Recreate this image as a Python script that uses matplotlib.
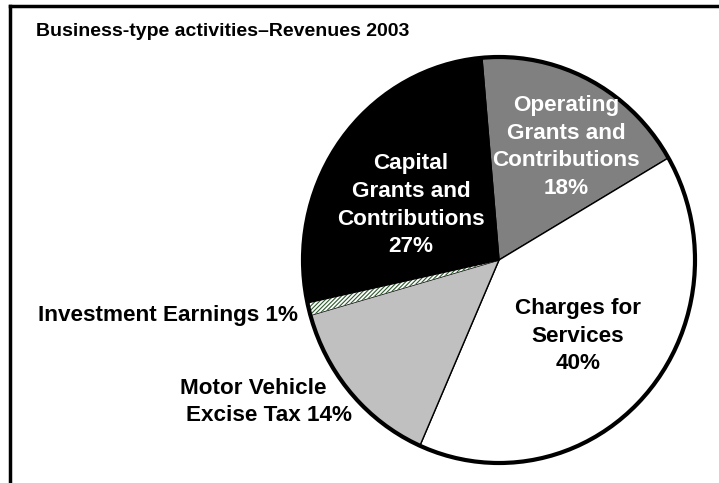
import matplotlib
matplotlib.use('Agg')
import matplotlib.pyplot as plt
from matplotlib.patches import Circle
from matplotlib.lines import Line2D

plt.rcParams['font.family'] = ['Liberation Sans', 'DejaVu Sans']
plt.rcParams['font.weight'] = 'bold'
plt.rcParams['hatch.linewidth'] = 0.8

# data
categories = ['Operating Grants and Contributions', 'Charges for Services',
              'Motor Vehicle Excise Tax', 'Investment Earnings',
              'Capital Grants and Contributions']
shares = [18, 40, 14, 1, 27]
colors = ['#808080', '#ffffff', '#c0c0c0', '#ffffff', '#000000']

fig = plt.figure(figsize=(7.19, 4.83), dpi=100)
fig.patch.set_facecolor('white')

# frame lines (top and left only)
fig.add_artist(Line2D([10 / 719, 1], [1 - 6 / 483, 1 - 6 / 483], color='black', lw=2.5,
                      transform=fig.transFigure))
fig.add_artist(Line2D([10 / 719, 10 / 719], [0, 1 - 6 / 483], color='black', lw=2.5,
                      transform=fig.transFigure))

fig.text(36 / 719, 1 - 32 / 483, 'Business-type activities\u2013Revenues 2003',
         fontsize=14, fontweight='bold', va='center', ha='left')

ax = fig.add_axes([303 / 719, 20 / 483, 392 / 719, 406 / 483])
wedges, _ = ax.pie(shares, colors=colors, startangle=95, counterclock=False,
                   wedgeprops=dict(edgecolor='black', linewidth=1.0))
ax.set_aspect('auto')
ax.set_xlim(-1, 1)
ax.set_ylim(-1, 1)
ax.axis('off')

# hatched investment slice
wedges[3].set_hatch('////////')
wedges[3].set_edgecolor('#2e5a2e')
wedges[3].set_linewidth(0)

# thick outer rim
ax.add_patch(Circle((0, 0), 1, fill=False, edgecolor='black', lw=3, clip_on=False))

fs = 16.2
ls = 1.42
ax.text(0.342, 0.557, 'Operating\nGrants and\nContributions\n%d%%' % shares[0],
        color='white', fontsize=fs, ha='center', va='center', linespacing=ls)
ax.text(-0.449, 0.269, 'Capital\nGrants and\nContributions\n%d%%' % shares[4],
        color='white', fontsize=fs, ha='center', va='center', linespacing=ls)
ax.text(0.403, -0.375, 'Charges for\nServices\n%d%%' % shares[1],
        color='black', fontsize=fs, ha='center', va='center', linespacing=ls)
ax.text(-1.026, -0.271, 'Investment Earnings %d%%' % shares[3],
        color='black', fontsize=fs, ha='right', va='center')
ax.text(-1.628, -0.631, 'Motor Vehicle', color='black', fontsize=fs,
        ha='left', va='center')
ax.text(-1.597, -0.764, 'Excise Tax %d%%' % shares[2], color='black', fontsize=fs,
        ha='left', va='center')

fig.savefig('out.png', dpi=100)
